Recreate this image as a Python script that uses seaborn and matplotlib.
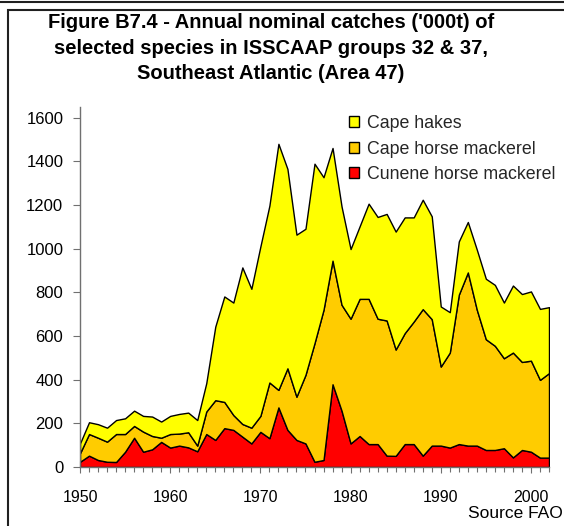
import numpy as np
import matplotlib
matplotlib.use("Agg")
import matplotlib.pyplot as plt
import seaborn as sns
from matplotlib.patches import Patch, Rectangle
from matplotlib.lines import Line2D

# Annual nominal catches ('000t), Southeast Atlantic (Area 47)
years = list(range(1950, 2003))

cunene_horse_mackerel = [24, 52, 32, 24, 23, 70, 134, 70, 81, 115,
                         89, 98, 90, 72, 151, 124, 178, 170, 139, 108,
                         161, 132, 273, 170, 124, 108, 24, 32, 379, 258,
                         108, 142, 105, 105, 52, 51, 105, 105, 52, 98,
                         98, 89, 105, 98, 98, 78, 78, 86, 44, 78,
                         70, 43, 43]

cape_horse_mackerel = [39, 99, 102, 92, 128, 81, 54, 92, 61, 19,
                       62, 55, 69, 26, 103, 182, 120, 68, 58, 72,
                       73, 255, 80, 282, 198, 314, 543, 688, 566, 485,
                       571, 628, 665, 574, 619, 487, 508, 561, 671, 579,
                       362, 435, 684, 793, 622, 507, 477, 412, 480, 403,
                       417, 356, 387]

cape_hakes = [45, 54, 62, 64, 64, 72, 70, 72, 89, 74,
              83, 90, 90, 117, 130, 337, 483, 515, 717, 636,
              776, 810, 1127, 913, 742, 669, 822, 607, 516, 450,
              319, 332, 436, 466, 488, 540, 530, 477, 501, 471,
              275, 185, 244, 231, 275, 277, 279, 255, 307, 311,
              317, 325, 302]

species = ["Cunene horse mackerel", "Cape horse mackerel", "Cape hakes"]
colors = ["#FF0000", "#FFCC00", "#FFFF00"]

title_lines = ["Figure B7.4 - Annual nominal catches ('000t) of",
               "selected species in ISSCAAP groups 32 & 37,",
               "Southeast Atlantic (Area 47)"]

sns.set_theme(style="white")
plt.rcParams['font.family'] = ['Liberation Sans', 'DejaVu Sans']

W, H = 564, 526
fig = plt.figure(figsize=(W / 100, H / 100), dpi=100)
ax = fig.add_axes([80 / W, (H - 467) / H, 469 / W, (467 - 106.7) / H])

ax.stackplot(years, cunene_horse_mackerel, cape_horse_mackerel, cape_hakes,
             colors=colors, edgecolor="black", linewidth=1, labels=species)

ax.set_xlim(1950, 2002)
ax.set_ylim(0, 1650)
ax.set_yticks(range(0, 1601, 200))
ax.set_xticks(range(1950, 2001, 10))
ax.set_xticks(years, minor=True)

for side in ["top", "right"]:
    ax.spines[side].set_visible(False)
for side in ["left", "bottom"]:
    ax.spines[side].set_color("#707070")
    ax.spines[side].set_linewidth(1)

ax.tick_params(axis="y", direction="out", length=5, width=0.8, color="#707070",
               pad=7, labelsize=12, labelcolor="black", left=True)
ax.tick_params(axis="x", which="major", direction="inout", length=8, width=0.8,
               color="#707070", pad=12.5, labelsize=11.5, labelcolor="black", bottom=True)
ax.tick_params(axis="x", which="minor", direction="out", length=3.5, width=0.8,
               color="#707070", bottom=True)
ax.set_facecolor("none")

# legend in reverse stacking order
handles = [Patch(facecolor=c, edgecolor="black", linewidth=1) for c in colors][::-1]
ax.legend(handles, species[::-1], loc="upper left",
          bbox_to_anchor=(349 / W, 1 - 115 / H), bbox_transform=fig.transFigure,
          frameon=False, fontsize=12.8, handlelength=0.58, handleheight=0.58,
          handletextpad=0.42, labelspacing=0.48, borderpad=0, borderaxespad=0)

# title
for i, line in enumerate(title_lines):
    fig.text(271 / W, 1 - (22.5 + 25.5 * i) / H, line, ha="center", va="center",
             fontsize=14.5, fontweight="bold", color="black")

fig.text(563 / W, 1 - 514 / H, "Source FAO", ha="right", va="center",
         fontsize=12.5, color="black")

# chart frame
fig.add_artist(Line2D([0, 1], [1 - 1.5 / H, 1 - 1.5 / H], transform=fig.transFigure,
                      color="#202020", linewidth=1.5))
fig.add_artist(Rectangle((8 / W, -20 / H), (W + 40) / W, (H + 20 - 9.5) / H,
                         transform=fig.transFigure, fill=False,
                         edgecolor="#202020", linewidth=1.5))

fig.savefig("out.png", dpi=100)
